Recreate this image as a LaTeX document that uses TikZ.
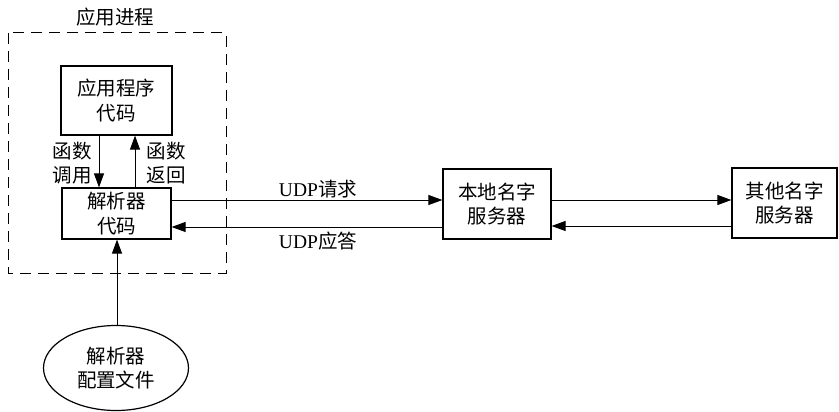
\documentclass[tikz,border=0pt]{standalone}
\usepackage{fontspec}
\setmainfont{Liberation Serif}
\newfontfamily\cjk{Noto Sans CJK SC}
\usetikzlibrary{arrows.meta,shapes.geometric}
\begin{document}
\begin{tikzpicture}[x=1pt,y=-1pt,
  txt/.style={font=\fontsize{19.5}{24.5}\selectfont\cjk, align=center, inner sep=0pt},
  box/.style={draw, line width=1.2pt, inner sep=0pt, txt},
  conn/.style={line width=1pt},
  arr/.style={conn, -{Triangle[length=14pt,width=10pt]}}]
\useasboundingbox (0,0) rectangle (839,412);
% dashed process boundary
\draw[line width=1pt, dash pattern=on 11pt off 7pt] (8,33) rectangle (226,273);
\node[txt] (proc) at (115,17) {应用进程};
% nodes
\node[box, minimum width=111pt, minimum height=69pt] (app) at (116.5,100.5) {应用程序\\代码};
\node[box, minimum width=109pt, minimum height=51pt] (res) at (116.5,213.5) {解析器\\代码};
\node[box, minimum width=108pt, minimum height=70pt] (local) at (497,204) {本地名字\\服务器};
\node[box, minimum width=105pt, minimum height=70pt] (other) at (784.5,203) {其他名字\\服务器};
\node[ellipse, draw, line width=1.2pt, minimum width=145pt, minimum height=85pt, inner sep=0pt, txt] (cfg) at (116,368) {解析器\\配置文件};
% helper coordinates
\coordinate (cx) at (99,0);
\coordinate (rx) at (135,0);
\coordinate (fx) at (117,0);
\coordinate (ry) at (0,200);
\coordinate (ay) at (0,227);
\coordinate (ry2) at (0,200);
\coordinate (ay2) at (0,226);
% connectors
\draw[arr] (app.south -| cx) -- (res.north -| cx);
\draw[arr] (res.north -| rx) -- (app.south -| rx);
\draw[arr] (res.east |- ry) -- (local.west |- ry);
\draw[arr] (local.west |- ay) -- (res.east |- ay);
\draw[arr] (local.east |- ry2) -- (other.west |- ry2);
\draw[arr] (other.west |- ay2) -- (local.east |- ay2);
\draw[arr] (cfg.north -| fx) -- (res.south -| fx);
% labels
\node[txt] (lcall) at (72,163) {函数\\调用};
\node[txt] (lret) at (166,163) {函数\\返回};
\node[txt] (lreq) at (318,189) {{\rmfamily UDP}请求};
\node[txt] (lrep) at (318,241) {{\rmfamily UDP}应答};
\end{tikzpicture}
\end{document}
